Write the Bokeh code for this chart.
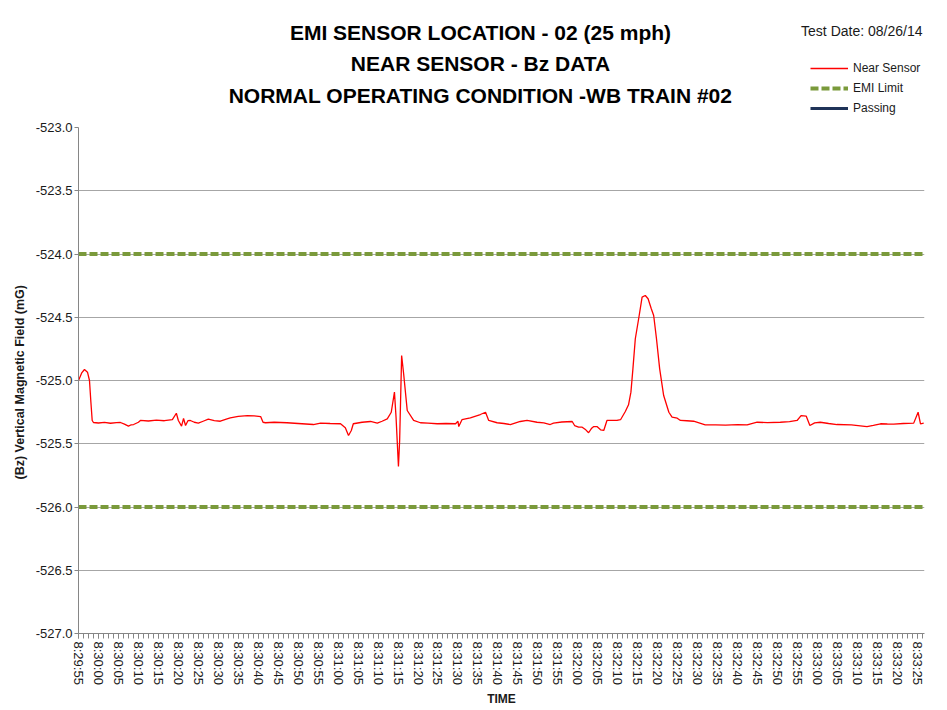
from bokeh.plotting import figure
from bokeh.layouts import column
from bokeh.models import (Range1d, FixedTicker, NumeralTickFormatter,
                          Legend, LegendItem)
from bokeh.core.properties import value
from bokeh.embed import file_html
from bokeh.resources import INLINE

# ---------------- data ----------------
time_labels = [
    "8:29:55", "8:30:00", "8:30:05", "8:30:10", "8:30:15", "8:30:20", "8:30:25",
    "8:30:30", "8:30:35", "8:30:40", "8:30:45", "8:30:50", "8:30:55", "8:31:00",
    "8:31:05", "8:31:10", "8:31:15", "8:31:20", "8:31:25", "8:31:30", "8:31:35",
    "8:31:40", "8:31:45", "8:31:50", "8:31:55", "8:32:00", "8:32:05", "8:32:10",
    "8:32:15", "8:32:20", "8:32:25", "8:32:30", "8:32:35", "8:32:40", "8:32:45",
    "8:32:50", "8:32:55", "8:33:00", "8:33:05", "8:33:10", "8:33:15", "8:33:20",
    "8:33:25",
]

# seconds after 8:29:55
time_s = [
    0.0, 0.8, 1.5, 2.25, 2.75, 3.1, 3.43, 3.75, 5.0, 6.5, 8.0, 9.5, 10.5, 11.5,
    12.5, 13.2, 13.8, 15.0, 15.5, 17.5, 19.5, 21.5, 23.5, 24.5, 25.0, 25.8, 26.3,
    26.8, 27.4, 28.0, 29.0, 30.0, 31.2, 32.5, 34.0, 35.5, 37.0, 38.0, 40.0, 42.3,
    44.0, 45.6, 46.2, 46.8, 49.0, 52.2, 55.0, 58.8, 60.6, 63.0, 65.6, 66.8, 67.6,
    68.3, 68.8, 71.0, 73.1, 74.8, 76.0, 77.3, 78.3, 79.1, 79.5, 80.1, 80.4, 80.9,
    81.4, 82.3, 83.9, 85.6, 87.5, 89.8, 92.0, 94.4, 95.0, 95.2, 96.0, 98.1, 100.6,
    101.9, 102.7, 104.8, 106.5, 108.1, 110.6, 112.3, 114.8, 116.5, 118.1, 118.9,
    121.0, 123.6, 124.2, 125.2, 126.1, 127.0, 127.7, 128.4, 129.0, 129.8, 130.7,
    131.5, 132.3, 133.2, 134.8, 135.7, 136.9, 137.7, 138.3, 138.8, 139.4, 140.3,
    141.1, 141.9, 142.6, 143.4, 144.0, 144.7, 145.5, 146.5, 147.8, 148.6, 149.9,
    150.7, 152.3, 154.0, 156.9, 159.5, 162.0, 165.0, 167.4, 169.9, 172.5, 175.7,
    178.0, 179.9, 180.9, 182.2, 183.1, 184.3, 185.7, 187.8, 189.9, 193.5, 197.4,
    199.0, 200.8, 202.5, 204.1, 206.5, 209.1, 210.2, 210.8, 211.6,
]

near_bz = [
    -525.000, -524.940, -524.913, -524.934, -525.000, -525.170, -525.316, -525.332,
    -525.336, -525.331, -525.338, -525.333, -525.332, -525.345, -525.361, -525.350,
    -525.348, -525.330, -525.316, -525.320, -525.314, -525.318, -525.310, -525.259,
    -525.316, -525.361, -525.300, -525.356, -525.318, -525.316, -525.330, -525.337,
    -525.322, -525.306, -525.318, -525.322, -525.305, -525.295, -525.283, -525.277,
    -525.280, -525.285, -525.330, -525.334, -525.330, -525.334, -525.340, -525.348,
    -525.337, -525.340, -525.342, -525.374, -525.435, -525.395, -525.342, -525.330,
    -525.324, -525.337, -525.322, -525.303, -525.251, -525.092, -525.290, -525.680,
    -525.474, -524.802, -524.947, -525.237, -525.316, -525.334, -525.337, -525.342,
    -525.340, -525.342, -525.322, -525.364, -525.310, -525.295, -525.269, -525.251,
    -525.316, -525.334, -525.340, -525.348, -525.324, -525.316, -525.330, -525.335,
    -525.348, -525.337, -525.328, -525.324, -525.356, -525.369, -525.369, -525.390,
    -525.413, -525.380, -525.364, -525.364, -525.390, -525.395, -525.316, -525.316,
    -525.316, -525.310, -525.245, -525.192, -525.092, -524.908, -524.670, -524.500,
    -524.341, -524.328, -524.354, -524.433, -524.486, -524.670, -524.908, -525.119,
    -525.251, -525.290, -525.298, -525.316, -525.318, -525.322, -525.351, -525.350,
    -525.352, -525.349, -525.351, -525.330, -525.333, -525.330, -525.325, -525.316,
    -525.277, -525.282, -525.356, -525.335, -525.330, -525.340, -525.348, -525.350,
    -525.364, -525.355, -525.342, -525.344, -525.345, -525.340, -525.337, -525.251,
    -525.342, -525.337,
]

emi_limits = [-524.0, -526.0]
passing_t = []
passing_bz = []

y_ticks = [-527.0, -526.5, -526.0, -525.5, -525.0, -524.5, -524.0, -523.5, -523.0]

title_lines = [
    "EMI SENSOR LOCATION - 02 (25 mph)",
    "NEAR SENSOR - Bz DATA",
    "NORMAL OPERATING CONDITION -WB TRAIN #02",
]
test_date = "Test Date: 08/26/14"
legend_labels = ["Near Sensor", "EMI Limit", "Passing"]

# ---------------- styles ----------------
FONT = "Liberation Sans"
RED = "#FF0000"
OLIVE = "#7A9A3B"
NAVY = "#1F3358"
TXT = "#1a1a1a"
AXIS = "#868686"
X_END = 211.8
W = 940
HEAD_H = 117
FRAME_L, FRAME_R = 78, 924   # frame edges shared by both figures (column aligns them)
NAN = float("nan")

# ---------------- header (titles + legend) ----------------
head = figure(width=W, height=HEAD_H, x_range=Range1d(FRAME_L, FRAME_R),
              y_range=Range1d(HEAD_H, 0), x_axis_type=None, y_axis_type=None,
              output_backend="svg", toolbar_location=None,
              min_border_left=FRAME_L, min_border_right=W - FRAME_R,
              min_border_top=0, min_border_bottom=0)
head.grid.visible = False
head.outline_line_color = None
head.background_fill_color = "white"
head.border_fill_color = "white"

head.text(x=[480, 480, 480], y=[32, 63, 95], text=title_lines,
          text_align="center", text_baseline="middle",
          text_font=value(FONT), text_font_style="bold",
          text_font_size="21px", text_color="black")
head.text(x=[922], y=[30], text=[test_date], text_align="right",
          text_baseline="middle", text_font=value(FONT),
          text_font_size="14px", text_color=TXT)

# legend proxies (styled like the series, with no visible data)
k_near = head.line([NAN], [NAN], line_color=RED, line_width=1.3)
k_lim = head.line([NAN], [NAN], line_color=OLIVE, line_width=4, line_dash="8 3")
k_pass = head.line([NAN], [NAN], line_color=NAVY, line_width=3)
legend = Legend(items=[LegendItem(label=l, renderers=[r]) for l, r in
                       zip(legend_labels, [k_near, k_lim, k_pass])],
                location=(810 - FRAME_L, 1), padding=0, margin=0, spacing=4,
                border_line_color=None, background_fill_alpha=0,
                glyph_width=38, glyph_height=16, label_height=16,
                label_standoff=5, label_text_font=FONT,
                label_text_font_size="12px", label_text_color=TXT)
head.add_layout(legend)

# ---------------- main plot ----------------
p = figure(width=W, height=591,
           x_range=Range1d(0, X_END), y_range=Range1d(-527.0, -523.0),
           output_backend="svg", toolbar_location=None,
           min_border_left=FRAME_L, min_border_right=W - FRAME_R,
           min_border_top=10, min_border_bottom=75)
p.outline_line_color = None
p.background_fill_color = "white"
p.border_fill_color = "white"

p.xgrid.visible = False
p.ygrid.grid_line_color = "#A6A6A6"
p.ygrid.grid_line_width = 1

tick_pos = [5 * i for i in range(len(time_labels))]
minor_pos = [1.25 * i for i in range(int(X_END / 1.25) + 1)]
p.xaxis.ticker = FixedTicker(ticks=tick_pos, minor_ticks=minor_pos)
p.xaxis.major_label_overrides = {t: lab for t, lab in zip(tick_pos, time_labels)}
p.xaxis.major_label_orientation = "vertical"
p.xaxis.major_label_text_font = FONT
p.xaxis.major_label_text_font_size = "13px"
p.xaxis.major_label_text_color = TXT
p.xaxis.major_label_standoff = 3
p.xaxis.major_tick_out = 5
p.xaxis.major_tick_in = 0
p.xaxis.minor_tick_out = 5
p.xaxis.minor_tick_in = 0
p.xaxis.axis_line_color = AXIS
p.xaxis.major_tick_line_color = AXIS
p.xaxis.minor_tick_line_color = AXIS
p.xaxis.axis_label = "TIME"
p.xaxis.axis_label_text_font = FONT
p.xaxis.axis_label_text_font_style = "bold"
p.xaxis.axis_label_text_font_size = "12px"
p.xaxis.axis_label_text_color = TXT
p.xaxis.axis_label_standoff = 4

p.yaxis.ticker = FixedTicker(ticks=y_ticks)
p.yaxis.formatter = NumeralTickFormatter(format="0.0")
p.yaxis.major_label_text_font = FONT
p.yaxis.major_label_text_font_size = "13px"
p.yaxis.major_label_text_color = TXT
p.yaxis.major_label_standoff = 2
p.yaxis.major_tick_out = 4
p.yaxis.major_tick_in = 0
p.yaxis.minor_tick_line_color = None
p.yaxis.axis_line_color = AXIS
p.yaxis.major_tick_line_color = AXIS
p.yaxis.axis_label = "(Bz)  Vertical Magnetic Field (mG)"
p.yaxis.axis_label_text_font = FONT
p.yaxis.axis_label_text_font_style = "bold"
p.yaxis.axis_label_text_font_size = "12.5px"
p.yaxis.axis_label_text_color = TXT
p.yaxis.axis_label_standoff = 6

p.multi_line(xs=[[time_s[0], X_END] for _ in emi_limits],
             ys=[[v, v] for v in emi_limits],
             line_color=OLIVE, line_width=4, line_dash="8 3")
p.line(time_s, near_bz, line_color=RED, line_width=1.3)
p.line(passing_t, passing_bz, line_color=NAVY, line_width=3)

layout = column(head, p, spacing=0)
open("out.html", "w").write(file_html(layout, INLINE))
